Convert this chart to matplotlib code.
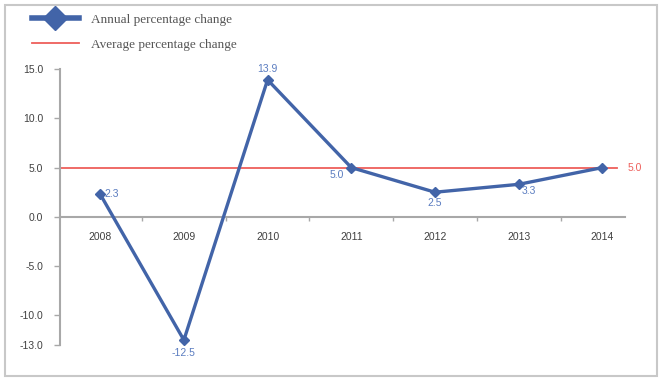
import matplotlib
matplotlib.use("Agg")
import matplotlib.pyplot as plt
from matplotlib.patches import Rectangle
from matplotlib.lines import Line2D
import numpy as np

years = ["2008", "2009", "2010", "2011", "2012", "2013", "2014"]
annual = [2.3, -12.5, 13.9, 5.0, 2.5, 3.3, 5.0]
average = 5.0
yticks = [15.0, 10.0, 5.0, 0.0, -5.0, -10.0, -13.0]
series_names = ["Annual percentage change", "Average percentage change"]

blue = "#4264A8"
label_blue = "#5A7CC0"
red = "#EE5F5B"
grey = "#A8A8A8"
tick_col = "#404040"

fig = plt.figure(figsize=(6.62, 3.79), dpi=100)
fig.patches.append(Rectangle((0.008, 0.008), 0.985, 0.98, transform=fig.transFigure,
                             fill=False, edgecolor="#C8C8C8", linewidth=1.5))

ax = fig.add_axes([60/662, 1-345/379, (625-60)/662, (345-69)/379])
x = np.arange(len(years))

ax.set_xlim(-0.48, 6.27)
ax.set_ylim(-13, 15)

# average line
ax.plot([-0.48, 6.18], [average, average], color=red, lw=1.3, zorder=2)
ax.text(6.3, average, f"{average:.1f}", color=red, fontsize=7.5, va="center", ha="left",
        family="Liberation Sans", clip_on=False)

ax.plot(x, annual, color=blue, lw=2.4, marker="D", markersize=5.5, zorder=3)

offsets = [(3, 0, "left", "center"), (0, -9, "center", "center"), (0, 8, "center", "center"),
           (-5, -5, "right", "center"), (0, -8, "center", "center"), (7, -5, "center", "center"),
           None]
for xi, v, off in zip(x, annual, offsets):
    if off is None:
        continue
    dx, dy, ha, va = off
    ax.annotate(f"{v:.1f}", (xi, v), xytext=(dx, dy), textcoords="offset points",
                ha=ha, va=va, color=label_blue, fontsize=7.5, family="Liberation Sans")

for s in ["top", "right"]:
    ax.spines[s].set_visible(False)
ax.spines["left"].set_color(grey)
ax.spines["left"].set_linewidth(1.5)
ax.spines["bottom"].set_position(("data", 0))
ax.spines["bottom"].set_color(grey)
ax.spines["bottom"].set_linewidth(1.5)

ax.set_yticks(yticks)
ax.set_yticklabels([f"{t:.1f}" for t in yticks], fontsize=7.5, color=tick_col,
                   family="Liberation Sans")
ax.tick_params(axis="y", direction="out", length=4, color=grey, width=1, pad=8)

ax.set_xticks(x)
ax.set_xticklabels(years, fontsize=7.5, color=tick_col, family="Liberation Sans")
ax.set_xticks(x[:-1] + 0.5, minor=True)
ax.tick_params(axis="x", which="major", length=0, pad=11)
ax.tick_params(axis="x", which="minor", direction="out", length=3, color=grey, width=1)

handles = [Line2D([], [], color=blue, lw=4, marker="D", markersize=12),
           Line2D([], [], color=red, lw=1.3)]
fig.legend(handles, series_names, loc="upper left", bbox_to_anchor=(0.03, 0.995),
           frameon=False, handlelength=3.6,
           prop={"family": "Liberation Serif", "size": 9.5}, labelcolor="#555555",
           handletextpad=0.9, labelspacing=0.95)

fig.savefig("out.png", dpi=100)
